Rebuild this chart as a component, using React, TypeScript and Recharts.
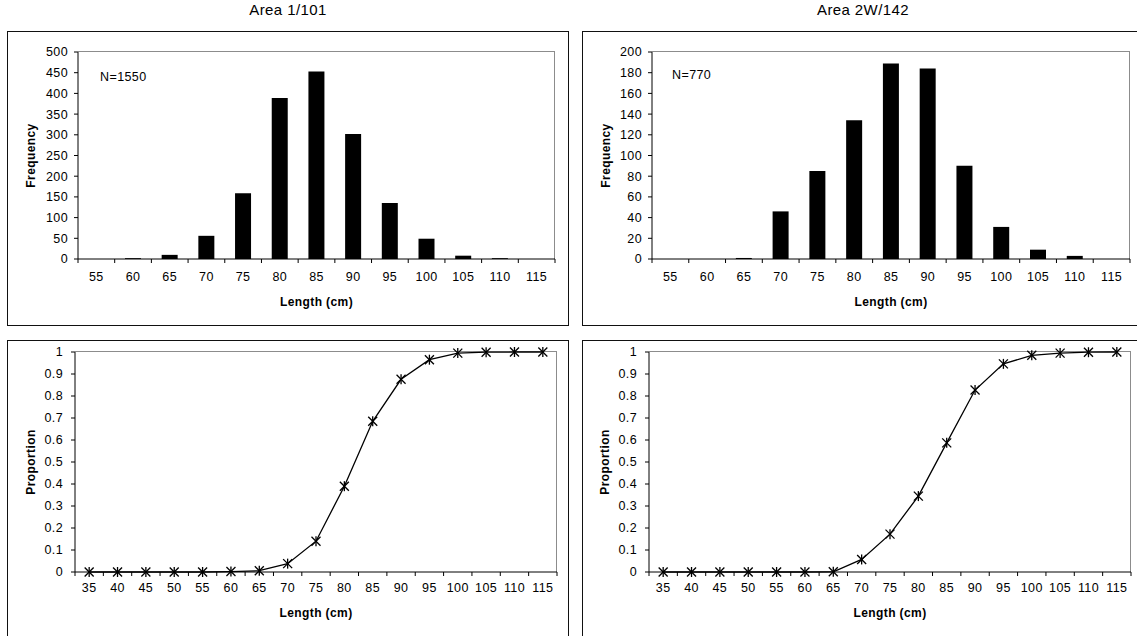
import React from 'react'
import { BarChart, Bar, LineChart, Line, XAxis, YAxis, Label } from 'recharts'

// length classes (cm) for the frequency histograms
const freqLengths = ['55', '60', '65', '70', '75', '80', '85', '90', '95', '100', '105', '110', '115']
const area1Freq = [0, 2, 10, 56, 159, 389, 453, 302, 135, 49, 8, 2, 0]
const area2Freq = [0, 0, 1, 46, 85, 134, 189, 184, 90, 31, 9, 3, 0]

// length classes (cm) for the proportion curves
const propLengths = ['35', '40', '45', '50', '55', '60', '65', '70', '75', '80', '85', '90', '95', '100', '105', '110', '115']
const area1Prop = [0, 0, 0, 0, 0, 0.002, 0.006, 0.038, 0.14, 0.39, 0.685, 0.876, 0.965, 0.995, 0.999, 1, 1]
const area2Prop = [0, 0, 0, 0, 0, 0, 0.001, 0.057, 0.172, 0.345, 0.587, 0.827, 0.946, 0.985, 0.995, 0.999, 1]

const freqTicks1 = [0, 50, 100, 150, 200, 250, 300, 350, 400, 450, 500]
const freqTicks2 = [0, 20, 40, 60, 80, 100, 120, 140, 160, 180, 200]
const propTicks = [0, 0.1, 0.2, 0.3, 0.4, 0.5, 0.6, 0.7, 0.8, 0.9, 1]

const FONT = '"Liberation Sans", Arial, sans-serif'
const FRAME = '#8c8c8c'
const TICK_FS = 12.5
const CHART_W = 562

const toRows = (cats: string[], vals: number[]) => cats.map((len, i) => ({ len, v: vals[i] }))

// Excel style category axis: tick marks sit between the categories
const makeBetweenTick = (gap: number) => (props: any) => {
    const { x, y, payload, index, visibleTicksCount, width } = props
    const step = width / visibleTicksCount
    const axisY = y - gap
    return (
        <g>
            <line x1={x - step / 2} x2={x - step / 2} y1={axisY} y2={axisY + 4} stroke="#000" />
            {index === visibleTicksCount - 1 && (
                <line x1={x + step / 2} x2={x + step / 2} y1={axisY} y2={axisY + 4} stroke="#000" />
            )}
            <text x={x} y={y} dy="0.71em" textAnchor="middle" fill="#000" fontSize={TICK_FS} fontFamily={FONT} letterSpacing={0.4}>
                {payload.value}
            </text>
        </g>
    )
}

const xTitle = (offset: number) => (props: any) => {
    const vb = props.viewBox
    return (
        <text x={vb.x + vb.width / 2} y={vb.y + offset} textAnchor="middle" dominantBaseline="central"
            fontSize={12} fontWeight="bold" fontFamily={FONT} letterSpacing={0.4} fill="#000">
            Length (cm)
        </text>
    )
}

const yTitle = (text: string, cx: number) => (props: any) => {
    const vb = props.viewBox
    const cy = vb.y + vb.height / 2
    return (
        <text x={cx} y={cy} transform={`rotate(-90 ${cx} ${cy})`} textAnchor="middle" dominantBaseline="central"
            fontSize={12} fontWeight="bold" fontFamily={FONT} letterSpacing={0.4} fill="#000">
            {text}
        </text>
    )
}

const StarDot = (props: any) => {
    const { cx, cy } = props
    if (cx == null || cy == null) return null
    const r = 4.5
    return (
        <g>
            <line x1={cx - r} y1={cy - r} x2={cx + r} y2={cy + r} stroke="#000" strokeWidth={1.3} />
            <line x1={cx - r} y1={cy + r} x2={cx + r} y2={cy - r} stroke="#000" strokeWidth={1.3} />
            <line x1={cx} y1={cy - r - 0.5} x2={cx} y2={cy + r + 0.5} stroke="#000" strokeWidth={1.3} />
        </g>
    )
}

const yTick = { fill: '#000', fontSize: TICK_FS, fontFamily: FONT, letterSpacing: 0.4 }

// grey top/right border of the plot area
const PlotFrame = ({ left, top, right, bottom, height }: { left: number; top: number; right: number; bottom: number; height: number }) => (
    <div style={{
        position: 'absolute', left, top: top - 1, width: CHART_W - left - right, height: height - top - bottom + 1,
        borderTop: `1px solid ${FRAME}`, borderRight: `1px solid ${FRAME}`, boxSizing: 'border-box', pointerEvents: 'none',
    }} />
)

interface FreqProps {
    values: number[]
    ticks: number[]
    yWidth: number
    right: number
    titleX: number
}

const FreqChart = ({ values, ticks, yWidth, right, titleX }: FreqProps) => {
    const h = 294, top = 21, xH = 66
    return (
        <>
            <PlotFrame left={yWidth} top={top} right={right} bottom={xH} height={h} />
            <BarChart width={CHART_W} height={h} data={toRows(freqLengths, values)}
                margin={{ top, right, bottom: 0, left: 0 }} barCategoryGap="28%">
                <XAxis dataKey="len" interval={0} height={xH} tickSize={4} tickMargin={9}
                    tickLine={{ stroke: 'none' }} axisLine={{ stroke: '#000' }} tick={makeBetweenTick(13)}>
                    <Label content={xTitle(43)} />
                </XAxis>
                <YAxis domain={[0, ticks[ticks.length - 1]]} ticks={ticks} interval={0} width={yWidth} tickSize={4} tickMargin={6}
                    tickLine={{ stroke: '#000' }} axisLine={{ stroke: '#000' }} tick={yTick}>
                    <Label content={yTitle('Frequency', titleX)} />
                </YAxis>
                <Bar dataKey="v" fill="#000" isAnimationActive={false} />
            </BarChart>
        </>
    )
}

interface PropProps {
    values: number[]
    yWidth: number
    right: number
    titleX: number
}

const PropChart = ({ values, yWidth, right, titleX }: PropProps) => {
    const h = 306, top = 12, xH = 74
    return (
        <>
            <PlotFrame left={yWidth} top={top} right={right} bottom={xH} height={h} />
            <LineChart width={CHART_W} height={h} data={toRows(propLengths, values)}
                margin={{ top, right, bottom: 0, left: 0 }}>
                <XAxis dataKey="len" scale="band" interval={0} height={xH} tickSize={4} tickMargin={7}
                    tickLine={{ stroke: 'none' }} axisLine={{ stroke: '#000' }} tick={makeBetweenTick(11)}>
                    <Label content={xTitle(41)} />
                </XAxis>
                <YAxis domain={[0, 1]} ticks={propTicks} interval={0} width={yWidth} tickSize={4} tickMargin={8}
                    tickLine={{ stroke: '#000' }} axisLine={{ stroke: '#000' }} tick={yTick}>
                    <Label content={yTitle('Proportion', titleX)} />
                </YAxis>
                <Line type="linear" dataKey="v" stroke="#000" strokeWidth={1.3} dot={StarDot} isAnimationActive={false} />
            </LineChart>
        </>
    )
}

const Panel = ({ left, top, height, children }: { left: number; top: number; height: number; children: React.ReactNode }) => (
    <div style={{ position: 'absolute', left, top, width: CHART_W, height }}>
        <div style={{ position: 'absolute', left: 0, top: 0, width: CHART_W, height, border: '1px solid #111', boxSizing: 'border-box' }} />
        <div style={{ position: 'absolute', left: 0, top: 0 }}>{children}</div>
    </div>
)

const Title = ({ left, text }: { left: number; text: string }) => (
    <div style={{ position: 'absolute', left, top: 1, width: CHART_W, textAlign: 'center', fontFamily: FONT, fontSize: 15, lineHeight: '18px', letterSpacing: 0.4 }}>
        {text}
    </div>
)

const Note = ({ left, top, text }: { left: number; top: number; text: string }) => (
    <div style={{ position: 'absolute', left, top, fontFamily: FONT, fontSize: TICK_FS, lineHeight: '14px', letterSpacing: 0.4 }}>{text}</div>
)

export default function App() {
    return (
        <div style={{ position: 'absolute', left: 0, top: 0, width: 1137, height: 636, overflow: 'hidden', background: '#fff' }}>
            <Title left={7} text="Area 1/101" />
            <Title left={582} text="Area 2W/142" />
            <Panel left={7} top={31} height={295}>
                <FreqChart values={area1Freq} ticks={freqTicks1} yWidth={71} right={14} titleX={24} />
            </Panel>
            <Panel left={582} top={31} height={295}>
                <FreqChart values={area2Freq} ticks={freqTicks2} yWidth={70} right={14} titleX={24} />
            </Panel>
            <Panel left={7} top={340} height={320}>
                <PropChart values={area1Prop} yWidth={68} right={12} titleX={24} />
            </Panel>
            <Panel left={582} top={340} height={320}>
                <PropChart values={area2Prop} yWidth={67} right={13} titleX={23} />
            </Panel>
            <Note left={100} top={70} text="N=1550" />
            <Note left={672} top={68} text="N=770" />
        </div>
    )
}
